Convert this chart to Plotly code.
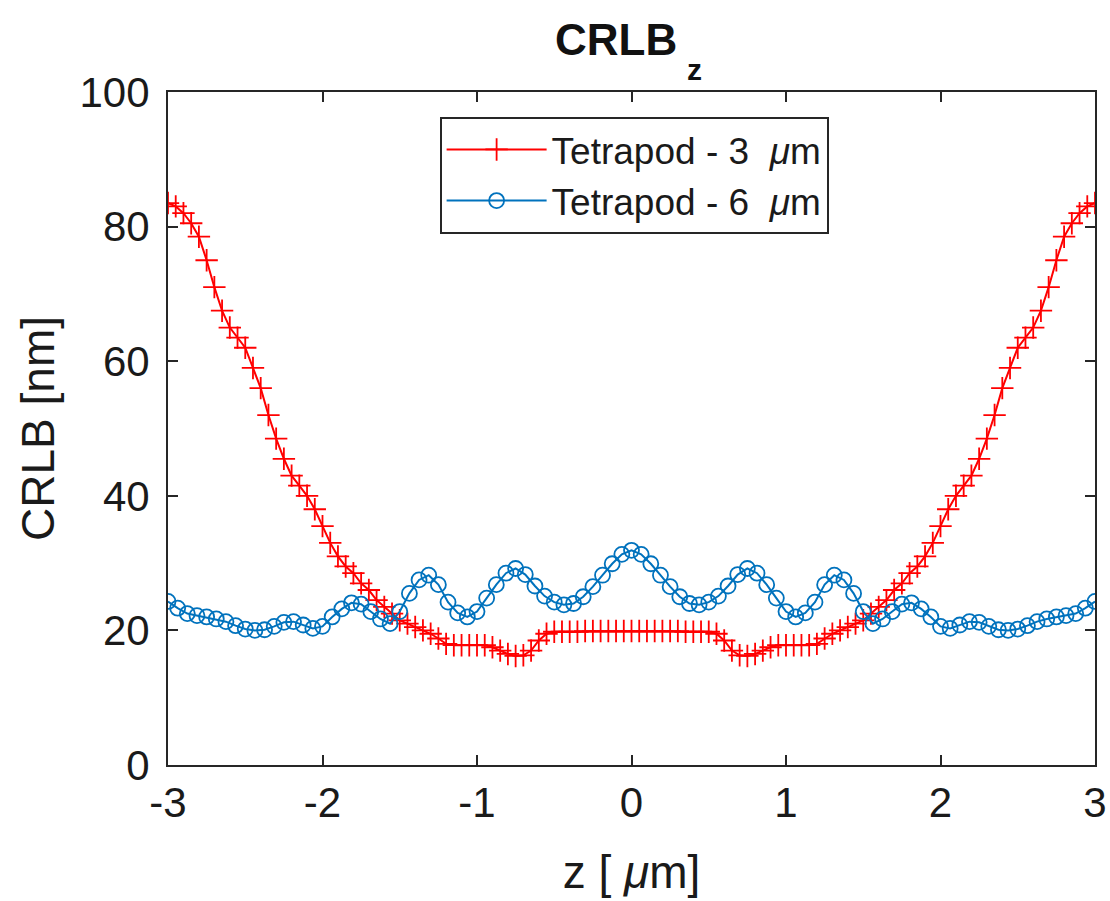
import plotly.graph_objects as go

# --- data -------------------------------------------------------------
# Tetrapod 3 um: z sampled every 0.05 um from -3 to 3 (121 points)
z_red = [round(-3 + 0.05 * k, 4) for k in range(121)]
crlb_red = [
    83.5, 83.0, 82.0, 80.5, 78.5, 75.0, 71.0, 67.5, 65.0, 63.5,
    62.0, 59.0, 56.0, 52.0, 48.5, 45.5, 43.0, 41.5, 40.0, 38.0,
    35.5, 33.0, 31.0, 29.5, 28.5, 27.0, 26.0, 24.5, 23.5, 22.5,
    21.5, 21.0, 20.5, 20.0, 19.5, 18.8, 18.0, 17.8, 17.8, 17.8,
    17.8, 17.8, 17.5, 17.0, 16.5, 16.2, 16.3, 17.0, 18.5, 19.5,
    19.8, 19.8, 19.8, 19.8, 19.9, 19.9, 19.9, 19.9, 19.9, 19.9,
    19.9,
    19.9, 19.9, 19.9, 19.9, 19.9, 19.9, 19.8, 19.8, 19.8, 19.8,
    19.5, 18.5, 17.0, 16.3, 16.2, 16.5, 17.0, 17.5, 17.8, 17.8,
    17.8, 17.8, 17.8, 18.0, 18.8, 19.5, 20.0, 20.5, 21.0, 21.5,
    22.5, 23.5, 24.5, 26.0, 27.0, 28.5, 29.5, 31.0, 33.0, 35.5,
    38.0, 40.0, 41.5, 43.0, 45.5, 48.5, 52.0, 56.0, 59.0, 62.0,
    63.5, 65.0, 67.5, 71.0, 75.0, 78.5, 80.5, 82.0, 83.0, 83.5,
]

# Tetrapod 6 um: z sampled every 0.0625 um from -3 to 3 (97 points)
z_blue = [round(-3 + 0.0625 * k, 4) for k in range(97)]
crlb_blue = [
    24.3, 23.3, 22.5, 22.2, 22.0, 21.7, 21.3, 20.7, 20.2, 20.0,
    20.1, 20.6, 21.2, 21.3, 20.8, 20.3, 20.6, 22.0, 23.2, 24.1,
    23.9, 22.8, 21.7, 21.0, 22.8, 25.5, 27.5, 28.2, 26.8, 24.2,
    22.6, 22.0, 22.8, 24.8, 26.8, 28.5, 29.2, 28.3, 26.6, 25.1,
    24.2, 23.8, 24.0, 25.0, 26.5, 28.2, 29.9, 31.3,
    31.9,
    31.3, 29.9, 28.2, 26.5, 25.0, 24.0, 23.8, 24.2, 25.1, 26.6,
    28.3, 29.2, 28.5, 26.8, 24.8, 22.8, 22.0, 22.6, 24.2, 26.8,
    28.2, 27.5, 25.5, 22.8, 21.0, 21.7, 22.8, 23.9, 24.1, 23.2,
    22.0, 20.6, 20.3, 20.8, 21.3, 21.2, 20.6, 20.1, 20.0, 20.2,
    20.7, 21.3, 21.7, 22.0, 22.2, 22.5, 23.3, 24.3,
]

x_ticks = [-3, -2, -1, 0, 1, 2, 3]
x_ticktext = ["-3", "-2", "-1", "0", "1", "2", "3"]
y_ticks = [0, 20, 40, 60, 80, 100]

name_red = "Tetrapod - 3 \u00a0<i>μ</i>m"
name_blue = "Tetrapod - 6 \u00a0<i>μ</i>m"

RED = "#FF0000"
BLUE = "#0072BD"
AXIS = "#262626"
TXT = "#1a1a1a"
FONT = "Liberation Sans, Arial, sans-serif"

fig = go.Figure()
fig.add_trace(go.Scatter(
    x=z_red, y=crlb_red, name=name_red, mode="lines+markers",
    line=dict(color=RED, width=2),
    marker=dict(symbol="cross-thin", size=16, color=RED,
                line=dict(color=RED, width=1.8)),
))
fig.add_trace(go.Scatter(
    x=z_blue, y=crlb_blue, name=name_blue, mode="lines+markers",
    line=dict(color=BLUE, width=2),
    marker=dict(symbol="circle-open", size=15, color=BLUE,
                line=dict(color=BLUE, width=1.8)),
))

axis_common = dict(
    showline=True, linecolor=AXIS, linewidth=2, mirror="ticks",
    ticks="inside", ticklen=10, tickwidth=2, tickcolor=AXIS,
    showgrid=False, zeroline=False, automargin=False,
    tickfont=dict(family=FONT, size=42, color=TXT),
)

fig.update_layout(
    width=1110, height=901,
    paper_bgcolor="white", plot_bgcolor="white",
    margin=dict(l=168, r=15, t=92, b=136),
    font=dict(family=FONT, color=TXT),
    xaxis=dict(range=[-3, 3], tickvals=x_ticks, ticktext=x_ticktext,
               title=dict(text="z [ <i>μ</i>m]", standoff=30,
                          font=dict(family=FONT, size=46, color=TXT)),
               **axis_common),
    yaxis=dict(range=[0, 100], tickvals=y_ticks, ticklabelstandoff=8,
               title=dict(text="CRLB [nm]", standoff=10,
                          font=dict(family=FONT, size=46, color=TXT)),
               **axis_common),
    legend=dict(x=0.293, y=0.963, xanchor="left", yanchor="top",
                bgcolor="white", bordercolor=AXIS, borderwidth=2,
                itemwidth=100, tracegroupgap=0,
                font=dict(family=FONT, size=37, color=TXT)),
    showlegend=True,
    annotations=[
        dict(text="<b>CRLB</b>", xref="paper", yref="paper",
             x=0.483, y=1.078, xanchor="center", yanchor="middle",
             showarrow=False, font=dict(family=FONT, size=44, color="#111111")),
        dict(text="<b>z</b>", xref="paper", yref="paper",
             x=0.568, y=1.033, xanchor="center", yanchor="middle",
             showarrow=False, font=dict(family=FONT, size=30, color="#111111")),
    ],
)

fig.write_html("out.html")
